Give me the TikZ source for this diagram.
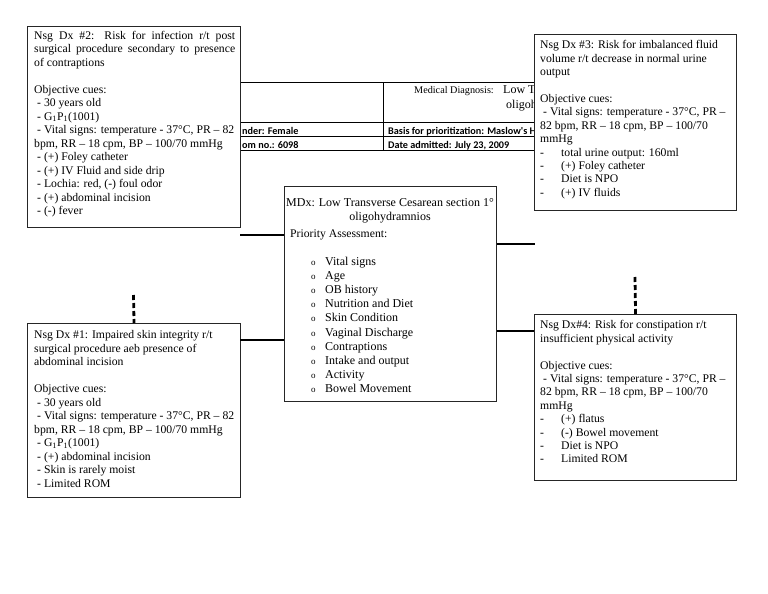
\documentclass[tikz,border=0pt]{standalone}
\usepackage{fontspec}
\setmainfont{Liberation Serif}
\newfontfamily\tabfont{Carlito}
\begin{document}
\begin{tikzpicture}[x=1pt,y=-1pt,
  box/.style={draw=black!85, line width=1.1pt, fill=white, anchor=north west, inner sep=0pt},
  txt/.style={anchor=north west, inner sep=0pt, align=left, font=\fontsize{11.7}{13.5}\selectfont},
  txtb/.style={anchor=north west, inner sep=0pt, align=left, font=\fontsize{11.7}{13.4}\selectfont},
  lst/.style={anchor=north west, inner sep=0pt, align=left, font=\fontsize{12}{14.2}\selectfont},
  tab/.style={anchor=base west, inner sep=0pt, font=\tabfont\bfseries\fontsize{10.2}{11}\selectfont},
  conn/.style={line width=2.8pt},
  dconn/.style={line width=2.8pt, dash pattern=on 5pt off 3pt},
  tline/.style={line width=0.9pt}]
\newcommand{\dsh}{\hspace*{3pt}- }
\newcommand{\lit}{\makebox[21pt][l]{-}}
\newcommand{\bul}{\makebox[14pt][l]{\fontsize{9}{10}\selectfont o}}
\useasboundingbox[fill=white] (0,0) rectangle (768,594);

% background table
\begin{scope}
\clip (240,80) rectangle (534,153);
\draw[tline] (240,82) -- (534,82);
\draw[tline] (240,122) -- (534,122);
\draw[tline] (240,136.5) -- (534,136.5);
\draw[tline] (240,150.5) -- (534,150.5);
\draw[tline] (383,82) -- (383,150.5);
\node[anchor=base west, inner sep=0pt, font=\fontsize{10.2}{11}\selectfont] (md) at (414,93) {Medical Diagnosis:};
\node[anchor=base west, inner sep=0pt, font=\fontsize{12}{13}\selectfont] (mdv) at (503,93) {Low T};
\node[anchor=base west, inner sep=0pt, font=\fontsize{12}{13}\selectfont] (mdv2) at (506,108) {oligohy};
\node[tab] (gen) at (242,134.5) {nder: Female};
\node[tab] (room) at (242,148.5) {om no.: 6098};
\node[tab] (basis) at (388,134.5) {Basis for prioritization: Maslow's H};
\node[tab] (date) at (388,148.5) {Date admitted: July 23, 2009};
\end{scope}

% Nsg Dx #2
\node[box, minimum width=213pt, minimum height=201pt] (b2) at (27,26) {};
\node[txt] (b2t) at (34,30.6) {\makebox[201pt][s]{Nsg Dx \#2: Risk for infection r/t post}\\
\makebox[201pt][s]{surgical procedure secondary to presence}\\
of contraptions\\[13.5pt]
Objective cues:\\
\dsh 30 years old\\
\dsh G\textsubscript{1}P\textsubscript{1}(1001)\\
\dsh Vital signs: temperature - 37°C, PR – 82\\
bpm, RR – 18 cpm, BP – 100/70 mmHg\\
\dsh (+) Foley catheter\\
\dsh (+) IV Fluid and side drip\\
\dsh Lochia: red, (-) foul odor\\
\dsh (+) abdominal incision\\
\dsh (-) fever};

% Nsg Dx #3
\node[box, minimum width=202pt, minimum height=176pt] (b3) at (534,34) {};
\node[txtb] (b3t) at (540,40.5) {Nsg Dx \#3: Risk for imbalanced fluid\\
volume r/t decrease in normal urine\\
output\\[13.4pt]
Objective cues:\\
\dsh Vital signs: temperature - 37°C, PR –\\
82 bpm, RR – 18 cpm, BP – 100/70\\
mmHg\\
\lit total urine output: 160ml\\
\lit (+) Foley catheter\\
\lit Diet is NPO\\
\lit (+) IV fluids};

% MDx
\node[box, minimum width=212pt, minimum height=215pt] (mdx) at (284,186) {};
\node[anchor=north, inner sep=0pt, align=center, font=\fontsize{12}{14}\selectfont] (mdxh) at (390,198) {MDx: Low Transverse Cesarean section 1°\\ oligohydramnios};
\node[txt] (pa) at (290,229.5) {Priority Assessment:};
\node[lst] (pal) at (311,256.5) {\bul Vital signs\\
\bul Age\\
\bul OB history\\
\bul Nutrition and Diet\\
\bul Skin Condition\\
\bul Vaginal Discharge\\
\bul Contraptions\\
\bul Intake and output\\
\bul Activity\\
\bul Bowel Movement};

% Nsg Dx #1
\node[box, minimum width=213pt, minimum height=174pt] (b1) at (27,323) {};
\node[txt] (b1t) at (34,330.5) {Nsg Dx \#1: Impaired skin integrity r/t\\
surgical procedure aeb presence of\\
abdominal incision\\[13.2pt]
Objective cues:\\
\dsh 30 years old\\
\dsh Vital signs: temperature - 37°C, PR – 82\\
bpm, RR – 18 cpm, BP – 100/70 mmHg\\
\dsh G\textsubscript{1}P\textsubscript{1}(1001)\\
\dsh (+) abdominal incision\\
\dsh Skin is rarely moist\\
\dsh Limited ROM};

% Nsg Dx #4
\node[box, minimum width=202pt, minimum height=166pt] (b4) at (534,314) {};
\node[txtb] (b4t) at (540,320.5) {Nsg Dx\#4: Risk for constipation r/t\\
insufficient physical activity\\[13.4pt]
Objective cues:\\
\dsh Vital signs: temperature - 37°C, PR –\\
82 bpm, RR – 18 cpm, BP – 100/70\\
mmHg\\
\lit (+) flatus\\
\lit (-) Bowel movement\\
\lit Diet is NPO\\
\lit Limited ROM};

% connectors
\coordinate (s1) at (240,235);
\coordinate (s2) at (535,244);
\coordinate (s3) at (240,340);
\coordinate (d1) at (133.5,295);
\coordinate (d2) at (635,277);
\draw[conn] (s1) -- (s1 -| mdx.west);
\draw[conn] (s2 -| mdx.east) -- (s2);
\draw[conn] (s3) -- (s3 -| mdx.west);
\draw[conn] (mdx.east |- 0,331) -- (b4.west |- 0,331);
\draw[dconn] (d1) -- (b1.north);
\draw[dconn] (d2) -- (b4.north);
\end{tikzpicture}
\end{document}
